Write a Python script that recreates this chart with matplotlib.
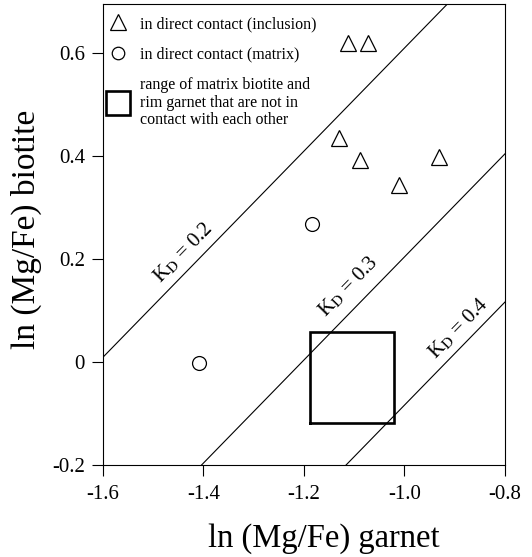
import numpy as np
import matplotlib
matplotlib.use("Agg")
import matplotlib.pyplot as plt
from matplotlib.lines import Line2D

plt.rcParams['font.family'] = ['Liberation Serif', 'DejaVu Serif']
plt.rcParams['mathtext.fontset'] = 'stix'

# Data
incl_x = [-1.112, -1.073, -1.130, -1.089, -1.011, -0.931]
incl_y = [0.620, 0.620, 0.435, 0.392, 0.344, 0.398]
matrix_x = [-1.184, -1.409]
matrix_y = [0.268, -0.002]
box_x = [-1.188, -1.021]
box_y = [-0.118, 0.058]
kd_values = [0.2, 0.3, 0.4]
kd_label_x = [-1.441, -1.112, -0.893]
kd_label_y = [0.212, 0.146, 0.066]
xticks = [-1.6, -1.4, -1.2, -1.0, -0.8]
xtick_labels = ['-1.6', '-1.4', '-1.2', '-1.0', '-0.8']
yticks = [-0.2, 0, 0.2, 0.4, 0.6]
ytick_labels = ['-0.2', '0', '0.2', '0.4', '0.6']

fig = plt.figure(figsize=(5.32, 5.57), dpi=100)
ax = fig.add_axes([0.1936, 0.165, 0.949 - 0.1936, 0.9928 - 0.165])
ax.set_xlim(-1.6, -0.8)
ax.set_ylim(-0.2, 0.695)

# KD lines: ln(Mg/Fe)bt = ln(Mg/Fe)grt - ln(KD)
xx = np.array([-1.7, -0.7])
for kd, lx, ly in zip(kd_values, kd_label_x, kd_label_y):
    ax.plot(xx, xx - np.log(kd), color='black', lw=0.8)
    ax.text(lx, ly, r'K$_{\mathrm{D}}$ = %.1f' % kd, rotation=45.7,
            ha='center', va='center', fontsize=15, rotation_mode='anchor')

# Box
ax.plot([box_x[0], box_x[1], box_x[1], box_x[0], box_x[0]],
        [box_y[0], box_y[0], box_y[1], box_y[1], box_y[0]],
        color='black', lw=1.9, solid_joinstyle='miter')

ax.plot(incl_x, incl_y, linestyle='none', marker='^', markersize=12,
        markerfacecolor='white', markeredgecolor='black', markeredgewidth=0.9)
ax.plot(matrix_x, matrix_y, linestyle='none', marker='o', markersize=10,
        markerfacecolor='white', markeredgecolor='black', markeredgewidth=0.9)

handles = [
    Line2D([], [], linestyle='none', marker='^', markersize=11,
           markerfacecolor='white', markeredgecolor='black', markeredgewidth=0.9),
    Line2D([], [], linestyle='none', marker='o', markersize=9,
           markerfacecolor='white', markeredgecolor='black', markeredgewidth=0.9),
    Line2D([], [], linestyle='none', marker='s', markersize=17,
           markerfacecolor='white', markeredgecolor='black', markeredgewidth=1.9),
]
labels = ['in direct contact (inclusion)', 'in direct contact (matrix)',
          'range of matrix biotite and\nrim garnet that are not in\ncontact with each other']
leg = ax.legend(handles, labels, loc='upper left', frameon=False, fontsize=11.5,
                handlelength=1.0, handletextpad=0.85, labelspacing=0.9,
                borderaxespad=0.0, borderpad=0.75, bbox_to_anchor=(-0.012, 1.0))
for t in leg.get_texts():
    t.set_linespacing(1.15)

ax.set_xticks(xticks)
ax.set_xticklabels(xtick_labels, fontsize=15)
ax.set_yticks(yticks)
ax.set_yticklabels(ytick_labels, fontsize=15)
ax.tick_params(direction='out', length=8, width=0.8, pad=6)
ax.tick_params(axis='y', pad=5)
for s in ax.spines.values():
    s.set_linewidth(0.8)

ax.set_xlabel('ln (Mg/Fe) garnet', fontsize=23.5)
ax.set_ylabel('ln (Mg/Fe) biotite', fontsize=24)
ax.xaxis.set_label_coords(0.55, -0.126)
ax.yaxis.set_label_coords(-0.152, 0.512)

fig.savefig('out.png', dpi=100)
